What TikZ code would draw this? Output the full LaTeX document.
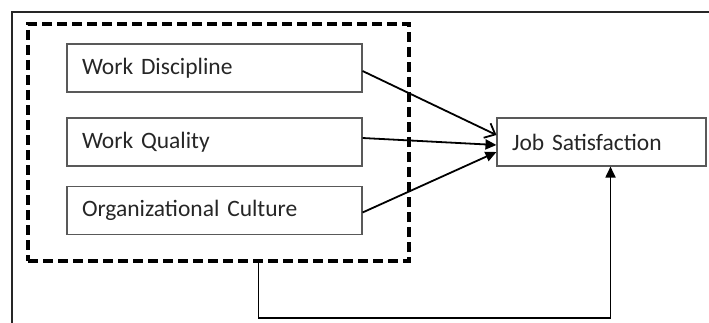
\documentclass[tikz,border=0pt]{standalone}
\usepackage{fontspec}
\setmainfont{Carlito}
\usetikzlibrary{arrows.meta}

\begin{document}
\begin{tikzpicture}[x=1pt,y=1pt,
every node/.style={font=\fontsize{23.5}{28}\selectfont, text=black!85},
factor/.style={draw=black!65, line width=1.1pt, minimum width=295pt, minimum height=48pt,
  inner sep=0pt, text width=265pt, align=left},
result/.style={factor, minimum width=209pt, text width=179pt},
group/.style={draw, line width=3.4pt, dash pattern=on 10pt off 5pt, minimum width=381pt,
  minimum height=237pt, inner sep=0pt},
link/.style={draw, line width=1.8pt, -{Triangle[length=11pt,width=10pt]}},
openlink/.style={draw, line width=1.8pt, -{Straight Barb[length=9pt,width=16pt,line width=1.8pt]}}
    ]
  \useasboundingbox (0,0) rectangle (709,322);
  % frame
  \draw[line width=2pt, black!85] (12,-10) -- (12,310) -- (720,310);

  \node[group] (grp) at (218.5,179.5) {};
  \node[factor] (wd) at (214.5,254) {Work Discipline};
  \node[factor] (wq) at (214.5,180) {Work Quality};
  \node[factor] (oc) at (214.5,111.5) {Organizational Culture};
  \node[result] (js) at (601.5,180) {Job Satisfaction};

  \draw[openlink] ([yshift=-3pt]wd.east) -- ([yshift=7pt]js.west);
  \draw[link] ([yshift=4pt]wq.east) -- ([yshift=-3pt]js.west);
  \draw[link] ([yshift=-2pt]oc.east) -- ([yshift=-10pt]js.west);
  \draw[link] ([xshift=40pt]grp.south) -- ++(0,-55pt) -| ([xshift=9pt]js.south);
\end{tikzpicture}
\end{document}
